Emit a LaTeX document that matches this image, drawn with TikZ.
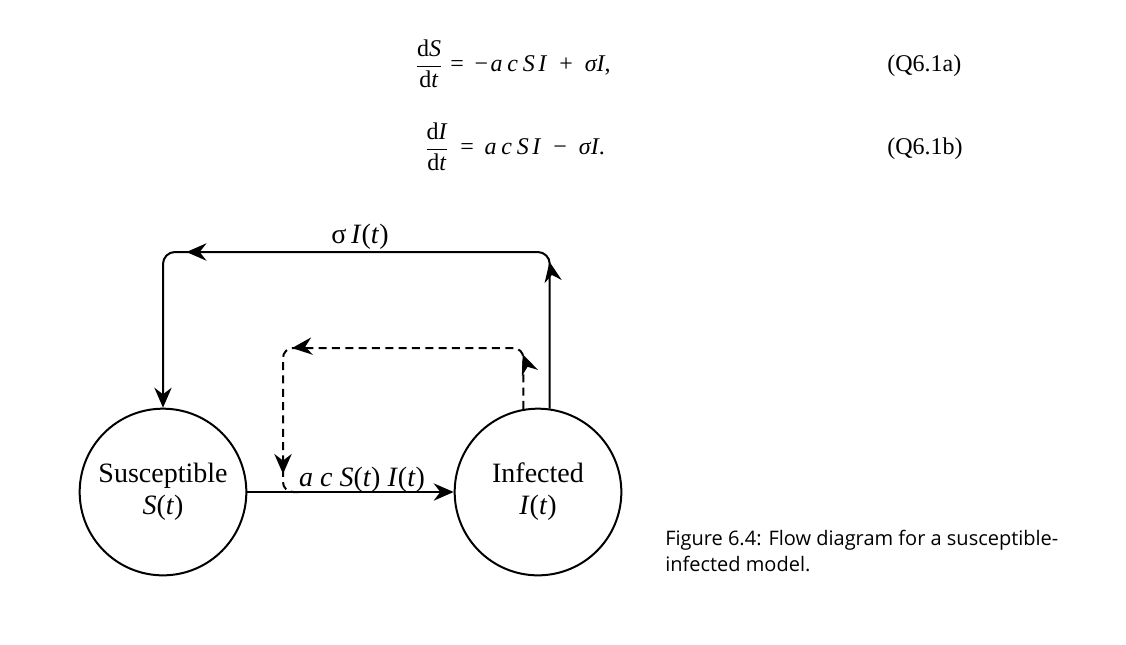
\documentclass[tikz,border=0pt]{standalone}
\usepackage{fontspec}
\setmainfont{Liberation Serif}
\newfontfamily\capfont{Open Sans}
\usetikzlibrary{arrows.meta,decorations.markings}
\begin{document}
\begin{tikzpicture}[x=0.75pt,y=-0.75pt,
  tip/.tip={Stealth[length=15pt,width=13pt,inset=5pt]},
  state/.style={circle,draw,line width=1.5pt,minimum size=125pt,inner sep=0pt,align=center,font=\fontsize{21}{24}\selectfont},
  flow/.style={line width=1.5pt},
  lbl/.style={inner sep=0pt,font=\fontsize{21}{24}\selectfont},
  eq/.style={inner sep=0pt,font=\fontsize{18}{21}\selectfont},
  capstyle/.style={inner sep=0pt,align=left,font=\capfont\fontsize{15}{19.2}\selectfont}
]
\useasboundingbox (0,0) rectangle (1126,644);

% equations
\node[eq] (f1) at (429,64) {$\displaystyle\frac{\hbox{d\textit{S}}}{\hbox{d\textit{t}}}$};
\node[eq,anchor=base west] (r1) at (450,71) {=\hspace{0.45em}−\hspace{0.1em}\textit{a\hspace{0.2em}c\hspace{0.2em}S\hspace{0.15em}I}\hspace{0.5em}+\hspace{0.5em}\textit{σI},};
\node[eq,anchor=base west] (n1) at (887,71) {(Q6.1a)};
\node[eq] (f2) at (437,147) {$\displaystyle\frac{\hbox{d\textit{I}}}{\hbox{d\textit{t}}}$};
\node[eq,anchor=base west] (r2) at (460,154) {=\hspace{0.45em}\textit{a\hspace{0.2em}c\hspace{0.2em}S\hspace{0.15em}I}\hspace{0.5em}−\hspace{0.5em}\textit{σI}.};
\node[eq,anchor=base west] (n2) at (887,154) {(Q6.1b)};

% states
\node[state] (S) at (163,492) {Susceptible\\\textit{S}(\textit{t})};
\node[state] (I) at (538,492) {Infected\\\textit{I}(\textit{t})};

% coordinates of the loops
\coordinate (tr) at (550,252);
\coordinate (tl) at (163,252);
\coordinate (dtr) at (523,348);
\coordinate (dtl) at (283,348);
\coordinate (dbl) at (283,492);
\coordinate (dend) at (300,492);

% main flow
\draw[flow,-{tip}] (S.east) -- (I.west);

% recovery loop
\draw[flow,rounded corners=9pt,-{tip},
  postaction={decorate},
  decoration={markings,
    mark=at position 110pt with {\arrow{tip}},
    mark=at position 386pt with {\arrow{tip}}}]
  (I.82) -- (I.82 |- tr) -- (tl) -- (S.north);

% dashed feedback
\draw[flow,rounded corners=7.5pt,dash pattern=on 6pt off 4pt,
  postaction={decorate},
  decoration={markings,
    mark=at position 41pt with {\arrow{tip}},
    mark=at position 216pt with {\arrow{tip}},
    mark=at position 314pt with {\arrow{tip}}}]
  (I.100) -- (I.100 |- dtr) -- (dtl) -- (dbl) -- (dend);

% labels
\node[lbl] (sig) at (360,237) {σ\,\textit{I}(\textit{t})};
\node[lbl,anchor=base] (ac) at (362,486) {\textit{a c S}(\textit{t}) \textit{I}(\textit{t})};

% caption
\node[capstyle,anchor=north west] (capt) at (665,530) {Figure 6.4: Flow diagram for a susceptible-\\infected model.};
\end{tikzpicture}
\end{document}
